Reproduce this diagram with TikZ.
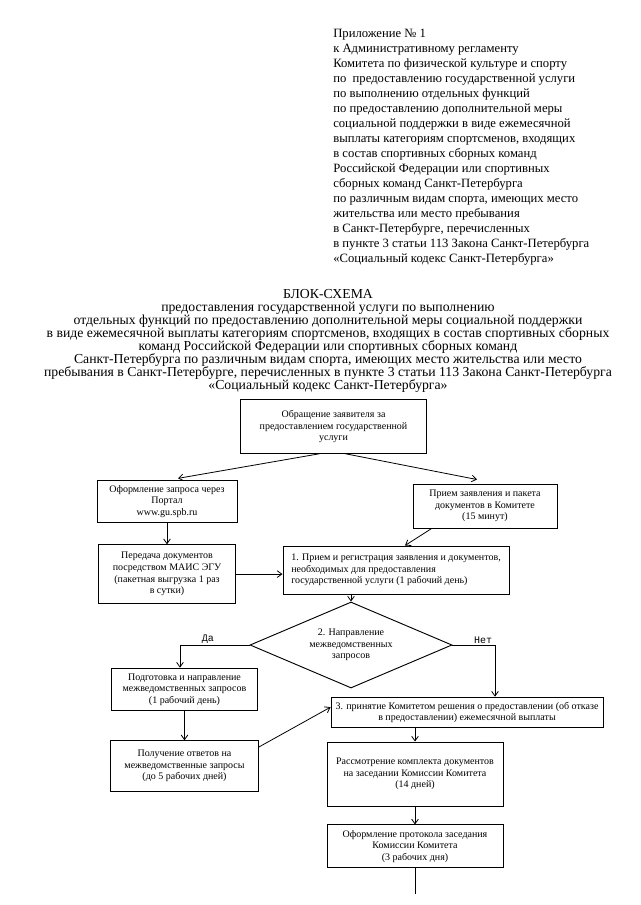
\documentclass[tikz,border=0pt]{standalone}
\usepackage{fontspec}
\setmainfont{Liberation Serif}
\setmonofont{Liberation Mono}
\usetikzlibrary{arrows.meta,positioning,shapes.geometric}

\begin{document}
\begin{tikzpicture}[x=0.75pt, y=-0.75pt, node distance=15pt,
    box/.style={draw, line width=0.7pt, inner sep=1pt, align=center, font=\fontsize{7.5}{8.7}\selectfont},
    decide/.style={draw, diamond, shape aspect=2.35, line width=0.7pt, inner sep=0pt, align=center, font=\fontsize{7.5}{8.7}\selectfont},
    arr/.style={-{Straight Barb[length=3.5pt,width=5pt]}, line width=0.6pt},
    answer/.style={font=\ttfamily\fontsize{7.5}{8}\selectfont, inner sep=1pt}]
  \useasboundingbox (0,0) rectangle (640,905);

  % Appendix heading
  \node[anchor=north west, align=left, inner sep=0pt, font=\fontsize{9.5}{11.25}\selectfont] (appx) at (333,29)
    {Приложение № 1\\
     к Административному регламенту\\
     Комитета по физической культуре и спорту\\
     по~ предоставлению государственной услуги\\
     по выполнению отдельных функций\\
     по предоставлению дополнительной меры\\
     социальной поддержки в виде ежемесячной\\
     выплаты категориям спортсменов, входящих\\
     в состав спортивных сборных команд\\
     Российской Федерации или спортивных\\
     сборных команд Санкт-Петербурга\\
     по различным видам спорта, имеющих место\\
     жительства или место пребывания\\
     в Санкт-Петербурге, перечисленных\\
     в пункте 3 статьи 113 Закона Санкт-Петербурга\\
     «Социальный кодекс Санкт-Петербурга»};

  % Title
  \node[anchor=north, align=center, inner sep=0pt, font=\fontsize{10.3}{9.75}\selectfont] (title) at (328,289)
    {БЛОК-СХЕМА\\
     предоставления государственной услуги по выполнению\\
     отдельных функций по предоставлению дополнительной меры социальной поддержки\\
     в виде ежемесячной выплаты категориям спортсменов, входящих в состав спортивных сборных\\
     команд Российской Федерации или спортивных сборных команд\\
     Санкт-Петербурга по различным видам спорта, имеющих место жительства или место\\
     пребывания в Санкт-Петербурге, перечисленных в пункте 3 статьи 113 Закона Санкт-Петербурга\\
     «Социальный кодекс Санкт-Петербурга»};

  % Applicant request
  \node[box, minimum width=140pt, minimum height=40pt] (apply) at (333.5,426.5)
    {Обращение заявителя за\\ предоставлением государственной\\ услуги};

  % Request through the portal
  \node[box, minimum width=105pt, minimum height=32pt] (portal) at (167,501.5)
    {Оформление запроса через\\ Портал\\ www.gu.spb.ru};

  % Reception at the Committee
  \node[box, minimum width=108pt, minimum height=33pt] (office) at (485,506)
    {Прием заявления и пакета\\ документов в Комитете\\ (15 минут)};

  % Transfer through MAIS EGU
  \node[box, minimum width=103pt, minimum height=44pt, below=15.75pt of portal] (maisegu)
    {Передача документов\\ посредством МАИС ЭГУ\\ (пакетная выгрузка 1 раз\\ в сутки)};

  % Step 1
  \node[box, align=left, minimum width=169.5pt, minimum height=36pt] (regist) at (396,570)
    {1. Прием и регистрация заявления и документов,\\ необходимых для предоставления\\ государственной услуги (1 рабочий день)};

  % Step 2
  \node[decide, minimum width=151.5pt, minimum height=64.5pt] (interq) at (351,645)
    {2. Направление\\ межведомственных\\ запросов};

  % Preparing the requests
  \node[box, minimum width=109pt, minimum height=32pt] (prepq) at (184.5,689.5)
    {Подготовка и направление\\ межведомственных запросов\\ (1 рабочий день)};

  % Answers to the requests
  \node[box, minimum width=111pt, minimum height=38pt, below=21.75pt of prepq] (answers)
    {Получение ответов на\\ межведомственные запросы\\ (до 5 рабочих дней)};

  % Step 3
  \node[box, minimum width=204pt, minimum height=23pt] (decision) at (467,712.5)
    {3. принятие Комитетом решения о предоставлении (об отказе\\ в предоставлении) ежемесячной выплаты};

  % Commission review
  \node[box, minimum width=132pt, minimum height=48pt] (review) at (415,774)
    {Рассмотрение комплекта документов\\ на заседании Комиссии Комитета\\ (14 дней)};

  % Protocol
  \node[box, minimum width=132pt, minimum height=32pt, below=13.5pt of review] (protocol)
    {Оформление протокола заседания\\ Комиссии Комитета\\ (3 рабочих дня)};

  \coordinate[below=19.5pt of protocol] (cont);

  % Arrows
  \draw[arr] ([xshift=-10pt]apply.south) -- ([xshift=8.25pt,yshift=1pt]portal.north);
  \draw[arr] ([xshift=8.5pt]apply.south) -- ([xshift=-6pt,yshift=3pt]office.north);
  \draw[arr] (portal) -- (maisegu);
  \draw[arr] (maisegu.east) -- (maisegu.east -| regist.west);
  \draw[arr] ([xshift=-40pt]office.south) -- ([xshift=6.75pt]regist.north);
  \draw[arr] (regist.south -| interq.north) -- (interq.north);
  \draw[arr] (interq.west) -| node[answer, pos=0.3, above] {Да} ([xshift=-3.4pt]prepq.north);
  \draw[arr] (interq.east) -| node[answer, pos=0.36, above] {Нет} ([xshift=21pt]decision.north);
  \draw[arr] (prepq) -- (answers);
  \draw[arr] ([yshift=-5pt]answers.north east) -- ([yshift=4pt]decision.west);
  \draw[arr] (decision.south -| review.north) -- (review.north);
  \draw[arr] (review) -- (protocol);
  \draw[line width=0.6pt] (protocol) -- (cont);
\end{tikzpicture}
\end{document}
